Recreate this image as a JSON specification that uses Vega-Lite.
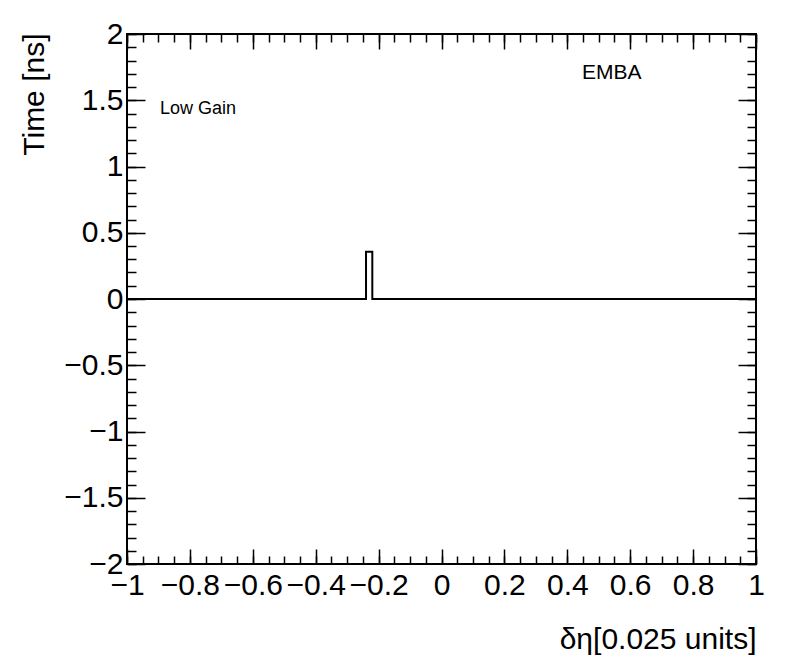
{
  "$schema": "https://vega.github.io/schema/vega-lite/v6.json",
  "width": 629,
  "height": 530,
  "autosize": {"type": "none"},
  "padding": {"left": 127, "top": 34, "right": 40, "bottom": 108},
  "background": "white",
  "config": {
    "font": "Liberation Sans",
    "view": {"stroke": "black", "strokeWidth": 2},
    "axis": {"domain": false, "grid": false, "tickColor": "black", "tickWidth": 1.5, "labelColor": "black", "titleColor": "black", "labelFont": "Liberation Sans", "titleFont": "Liberation Sans", "labelFontWeight": "normal", "titleFontWeight": "normal"}
  },
  "datasets": {
    "hist": [
      {"x": -1, "t": 0},
      {"x": -0.24, "t": 0.357},
      {"x": -0.22, "t": 0},
      {"x": 1, "t": 0}
    ],
    "notes": [
      {"x": -0.895, "t": 1.396, "label": "Low Gain", "size": 18},
      {"x": 0.447, "t": 1.66, "label": "EMBA", "size": 21}
    ]
  },
  "resolve": {"axis": {"x": "independent", "y": "independent"}},
  "layer": [
    {
      "data": {"name": "hist"},
      "mark": {"type": "line", "interpolate": "step-after", "color": "black", "strokeWidth": 2},
      "encoding": {
        "x": {"field": "x", "type": "quantitative", "scale": {"domain": [-1, 1], "nice": false, "zero": false},
          "axis": {"orient": "bottom", "values": [-1, -0.8, -0.6, -0.4, -0.2, 0, 0.2, 0.4, 0.6, 0.8, 1], "format": ".1~f", "tickSize": -15, "labelPadding": 21, "labelFontSize": 30, "labelBaseline": "top", "labelFlush": false, "labelOverlap": false, "labelBound": false,
            "title": "δη[0.025 units]", "titleFontSize": 30, "titleAnchor": "end", "titleAlign": "right", "titleBaseline": "alphabetic", "titleX": 629, "titleY": 84}},
        "y": {"field": "t", "type": "quantitative", "scale": {"domain": [-2, 2], "nice": false, "zero": false},
          "axis": {"orient": "left", "values": [-2, -1.5, -1, -0.5, 0, 0.5, 1, 1.5, 2], "format": ".1~f", "tickSize": -18, "labelPadding": 22, "labelFontSize": 30, "labelBaseline": "middle", "labelFlush": false, "labelOverlap": false, "labelBound": false,
            "title": "Time [ns]", "titleFontSize": 30, "titleAngle": -90, "titleAlign": "right", "titleBaseline": "alphabetic", "titleX": -84, "titleY": -1}}
      }
    },
    {
      "data": {"name": "hist"},
      "mark": {"type": "line", "interpolate": "step-after", "strokeOpacity": 0},
      "encoding": {
        "x": {"field": "x", "type": "quantitative",
          "axis": {"orient": "bottom", "values": [-1, -0.95, -0.9, -0.85, -0.8, -0.75, -0.7, -0.65, -0.6, -0.55, -0.5, -0.45, -0.4, -0.35, -0.3, -0.25, -0.2, -0.15, -0.1, -0.05, 0, 0.05, 0.1, 0.15, 0.2, 0.25, 0.3, 0.35, 0.4, 0.45, 0.5, 0.55, 0.6, 0.65, 0.7, 0.75, 0.8, 0.85, 0.9, 0.95, 1], "tickSize": -8, "labels": false, "title": null}},
        "y": {"field": "t", "type": "quantitative",
          "axis": {"orient": "left", "values": [-2, -1.9, -1.8, -1.7, -1.6, -1.5, -1.4, -1.3, -1.2, -1.1, -1, -0.9, -0.8, -0.7, -0.6, -0.5, -0.4, -0.3, -0.2, -0.1, 0, 0.1, 0.2, 0.3, 0.4, 0.5, 0.6, 0.7, 0.8, 0.9, 1, 1.1, 1.2, 1.3, 1.4, 1.5, 1.6, 1.7, 1.8, 1.9, 2], "tickSize": -9, "labels": false, "title": null}}
      }
    },
    {
      "data": {"name": "hist"},
      "mark": {"type": "line", "interpolate": "step-after", "strokeOpacity": 0},
      "encoding": {
        "x": {"field": "x", "type": "quantitative",
          "axis": {"orient": "top", "values": [-1, -0.8, -0.6, -0.4, -0.2, 0, 0.2, 0.4, 0.6, 0.8, 1], "tickSize": -15, "labels": false, "title": null}},
        "y": {"field": "t", "type": "quantitative",
          "axis": {"orient": "right", "values": [-2, -1.5, -1, -0.5, 0, 0.5, 1, 1.5, 2], "tickSize": -18, "labels": false, "title": null}}
      }
    },
    {
      "data": {"name": "hist"},
      "mark": {"type": "line", "interpolate": "step-after", "strokeOpacity": 0},
      "encoding": {
        "x": {"field": "x", "type": "quantitative",
          "axis": {"orient": "top", "values": [-1, -0.95, -0.9, -0.85, -0.8, -0.75, -0.7, -0.65, -0.6, -0.55, -0.5, -0.45, -0.4, -0.35, -0.3, -0.25, -0.2, -0.15, -0.1, -0.05, 0, 0.05, 0.1, 0.15, 0.2, 0.25, 0.3, 0.35, 0.4, 0.45, 0.5, 0.55, 0.6, 0.65, 0.7, 0.75, 0.8, 0.85, 0.9, 0.95, 1], "tickSize": -8, "labels": false, "title": null}},
        "y": {"field": "t", "type": "quantitative",
          "axis": {"orient": "right", "values": [-2, -1.9, -1.8, -1.7, -1.6, -1.5, -1.4, -1.3, -1.2, -1.1, -1, -0.9, -0.8, -0.7, -0.6, -0.5, -0.4, -0.3, -0.2, -0.1, 0, 0.1, 0.2, 0.3, 0.4, 0.5, 0.6, 0.7, 0.8, 0.9, 1, 1.1, 1.2, 1.3, 1.4, 1.5, 1.6, 1.7, 1.8, 1.9, 2], "tickSize": -9, "labels": false, "title": null}}
      }
    },
    {
      "data": {"name": "notes"},
      "mark": {"type": "text", "align": "left", "baseline": "alphabetic", "color": "black", "font": "Liberation Sans"},
      "encoding": {
        "x": {"field": "x", "type": "quantitative", "axis": null},
        "y": {"field": "t", "type": "quantitative", "axis": null},
        "text": {"field": "label"},
        "size": {"field": "size", "type": "quantitative", "scale": null, "legend": null}
      }
    }
  ]
}
